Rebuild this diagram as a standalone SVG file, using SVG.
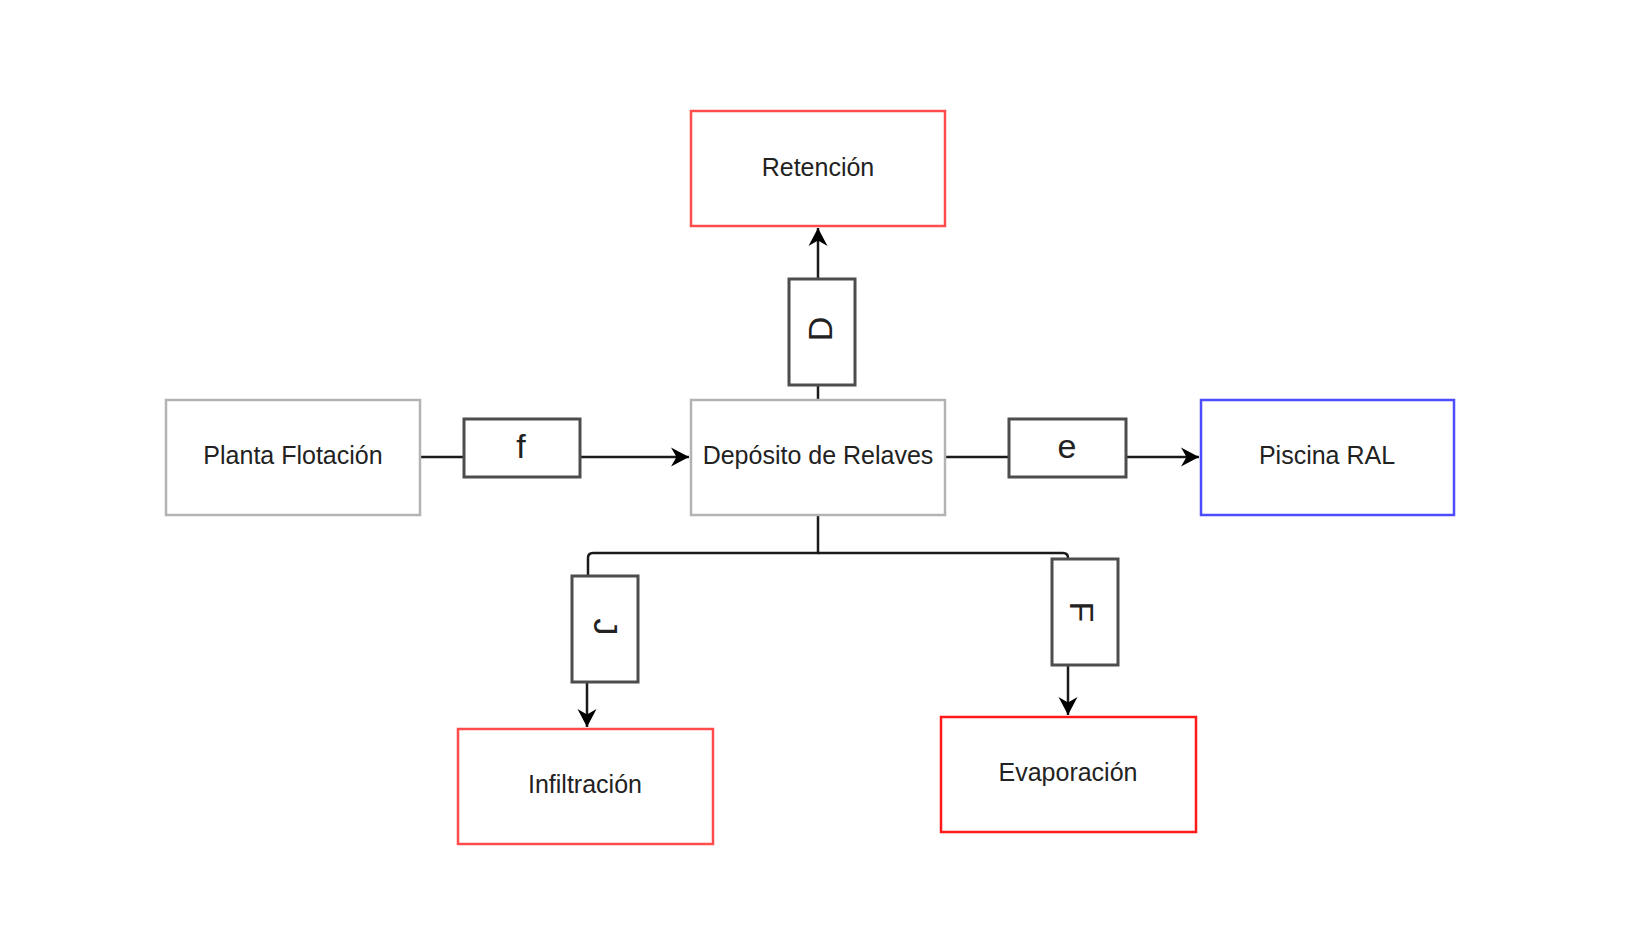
<svg xmlns="http://www.w3.org/2000/svg" width="1640" height="929" viewBox="0 0 1640 929">
<style>
.box{fill:#ffffff;stroke-width:2.5}
.gray{stroke:#b3b3b3}
.red{stroke:#ff4d4d}
.red2{stroke:#ff1a1a}
.blue{stroke:#4d4dff}
.tag{fill:#ffffff;stroke:#4d4d4d;stroke-width:3}
.lbl{font-family:"Liberation Sans",Arial,sans-serif;font-size:25px;fill:#222222;text-anchor:middle}
.big{font-family:"Liberation Sans",Arial,sans-serif;font-size:34px;fill:#222222;text-anchor:middle}
.edge{fill:none;stroke:#1a1a1a;stroke-width:2.5}
</style>
<defs>
<marker id="arr" markerUnits="userSpaceOnUse" markerWidth="24" markerHeight="24" viewBox="-20 -12 24 24" refX="0" refY="0" orient="auto">
<path d="M0,0 L-18,-9.5 L-12.5,0 L-18,9.5 Z" fill="#000000"/>
</marker>
</defs>
<rect width="1640" height="929" fill="#ffffff"/>
<g id="connectors">
<line class="edge" x1="421" y1="457" x2="464" y2="457"/>
<line class="edge" x1="580" y1="457" x2="689" y2="457" marker-end="url(#arr)"/>
<line class="edge" x1="946" y1="457" x2="1009" y2="457"/>
<line class="edge" x1="1126" y1="457" x2="1199" y2="457" marker-end="url(#arr)"/>
<line class="edge" x1="818" y1="399" x2="818" y2="385"/>
<line class="edge" x1="818" y1="279" x2="818" y2="228" marker-end="url(#arr)"/>
<path class="edge" d="M818,515 L818,553 L593,553 Q588,553 588,558 L588,576"/>
<path class="edge" d="M818,553 L1063,553 Q1068,553 1068,558 L1068,559"/>
<line class="edge" x1="587" y1="682" x2="587" y2="727" marker-end="url(#arr)"/>
<line class="edge" x1="1068" y1="665" x2="1068" y2="715" marker-end="url(#arr)"/>
</g>
<g id="retencion">
<rect class="box red" x="691" y="111" width="254" height="115"/>
<text class="lbl" x="818" y="176">Retención</text>
</g>
<g id="planta">
<rect class="box gray" x="166" y="400" width="254" height="115"/>
<text class="lbl" x="293" y="464">Planta Flotación</text>
</g>
<g id="deposito">
<rect class="box gray" x="691" y="400" width="254" height="115"/>
<text class="lbl" x="818" y="464">Depósito de Relaves</text>
</g>
<g id="piscina">
<rect class="box blue" x="1201" y="400" width="253" height="115"/>
<text class="lbl" x="1327" y="464">Piscina RAL</text>
</g>
<g id="infiltracion">
<rect class="box red" x="458" y="729" width="255" height="115"/>
<text class="lbl" x="585" y="793">Infiltración</text>
</g>
<g id="evaporacion">
<rect class="box red2" x="941" y="717" width="255" height="115"/>
<text class="lbl" x="1068" y="781">Evaporación</text>
</g>
<g id="tag-f">
<rect class="tag" x="464" y="419" width="116" height="58"/>
<text class="big" x="521" y="458">f</text>
</g>
<g id="tag-e">
<rect class="tag" x="1009" y="419" width="117" height="58"/>
<text class="big" x="1067" y="458">e</text>
</g>
<g id="tag-D">
<rect class="tag" x="789" y="279" width="66" height="106"/>
<text class="big" transform="translate(832,329) rotate(-90)" x="0" y="0">D</text>
</g>
<g id="tag-J">
<rect class="tag" x="572" y="576" width="66" height="106"/>
<text class="big" transform="translate(594,627) rotate(90)" x="0" y="0">J</text>
</g>
<g id="tag-F">
<rect class="tag" x="1052" y="559" width="66" height="106"/>
<text class="big" transform="translate(1070,612) rotate(90)" x="0" y="0">F</text>
</g>
</svg>
